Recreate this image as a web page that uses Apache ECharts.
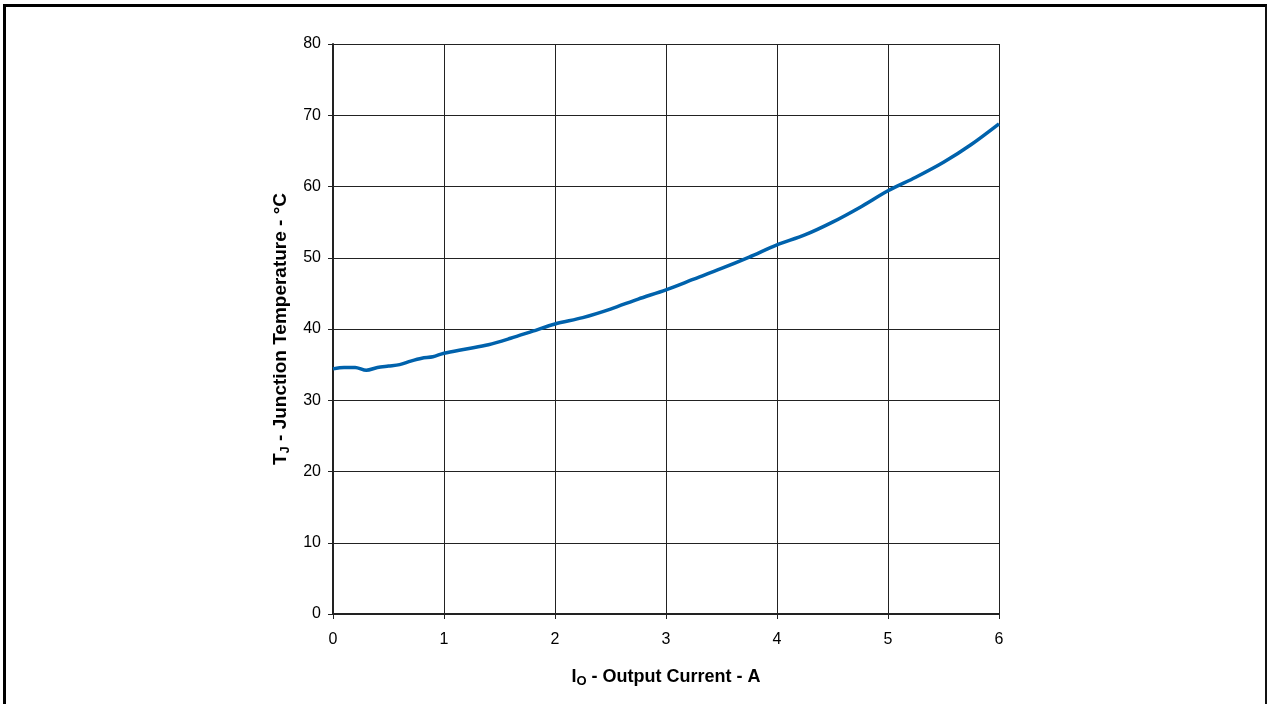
<!DOCTYPE html>
<html>
<head>
<meta charset="utf-8">
<script src="https://cdn.jsdelivr.net/npm/echarts@6/dist/echarts.min.js"></script>
<style>
html,body{margin:0;padding:0;background:#fff;overflow:hidden;}
#frame{position:absolute;left:3px;top:4px;width:1264px;height:720px;border-left:3px solid #000;border-top:3px solid #000;border-right:2px solid #111;box-sizing:border-box;}
#chart{position:absolute;left:0;top:0;width:1267px;height:704px;}
</style>
</head>
<body>
<div id="frame"></div>
<div id="chart"></div>
<script>
var currentA = [0, 0.1, 0.2, 0.3, 0.4, 0.5, 0.6, 0.7, 0.8, 0.9, 1.0, 1.2, 1.4, 1.6, 1.8, 2.0, 2.25, 2.5, 2.75, 3.0, 3.25, 3.5, 3.75, 4.0, 4.25, 4.5, 4.75, 5.0, 5.25, 5.5, 5.75, 6.0];
var tempC = [34.4, 34.6, 34.6, 34.2, 34.6, 34.8, 35.0, 35.5, 35.9, 36.1, 36.6, 37.2, 37.8, 38.7, 39.7, 40.7, 41.6, 42.8, 44.2, 45.5, 47.0, 48.5, 50.1, 51.8, 53.2, 55.0, 57.1, 59.4, 61.3, 63.4, 65.9, 68.8];
var xTicks = [0, 1, 2, 3, 4, 5, 6];
var yTicks = [0, 10, 20, 30, 40, 50, 60, 70, 80];

var pts = currentA.map(function (x, i) { return [x, tempC[i]]; });
var chart = echarts.init(document.getElementById('chart'));
var font = 'Liberation Sans, Arial, Helvetica, sans-serif';
chart.setOption({
  animation: false,
  grid: { left: 333, right: 268, top: 44, bottom: 90, containLabel: false },
  xAxis: {
    type: 'value', min: xTicks[0], max: xTicks[xTicks.length - 1], interval: 1,
    name: '{b|I}{s|O}{b| - Output Current - A}',
    nameLocation: 'middle', nameGap: 52,
    nameTextStyle: { rich: {
      b: { fontFamily: font, fontWeight: 'bold', fontSize: 18, color: '#000' },
      s: { fontFamily: font, fontWeight: 'bold', fontSize: 13, color: '#000', verticalAlign: 'bottom', padding: [9, 0, 0, 0] }
    } },
    axisLine: { show: true, lineStyle: { color: '#222', width: 2 } },
    axisTick: { show: true, length: 5, lineStyle: { color: '#222', width: 1 } },
    axisLabel: { color: '#000', fontFamily: font, fontSize: 16, margin: 18 },
    splitLine: { show: true, lineStyle: { color: '#222', width: 1 } }
  },
  yAxis: {
    type: 'value', min: yTicks[0], max: yTicks[yTicks.length - 1], interval: 10,
    name: '{b|T}{s|J}{b| - Junction Temperature - °C}',
    nameLocation: 'middle', nameGap: 41, nameRotate: 90,
    nameTextStyle: { rich: {
      b: { fontFamily: font, fontWeight: 'bold', fontSize: 19, color: '#000' },
      s: { fontFamily: font, fontWeight: 'bold', fontSize: 13, color: '#000', verticalAlign: 'bottom', padding: [9, 0, 0, 0] }
    } },
    axisLine: { show: true, lineStyle: { color: '#222', width: 2 } },
    axisTick: { show: true, length: 5, lineStyle: { color: '#222', width: 1 } },
    axisLabel: { color: '#000', fontFamily: font, fontSize: 16, margin: 12, padding: [5, 0, 0, 0] },
    splitLine: { show: true, lineStyle: { color: '#222', width: 1 } }
  },
  series: [{
    type: 'line', data: pts, smooth: 0.3, showSymbol: false,
    lineStyle: { color: '#0062ac', width: 3.5 }
  }]
});
</script>
</body>
</html>
